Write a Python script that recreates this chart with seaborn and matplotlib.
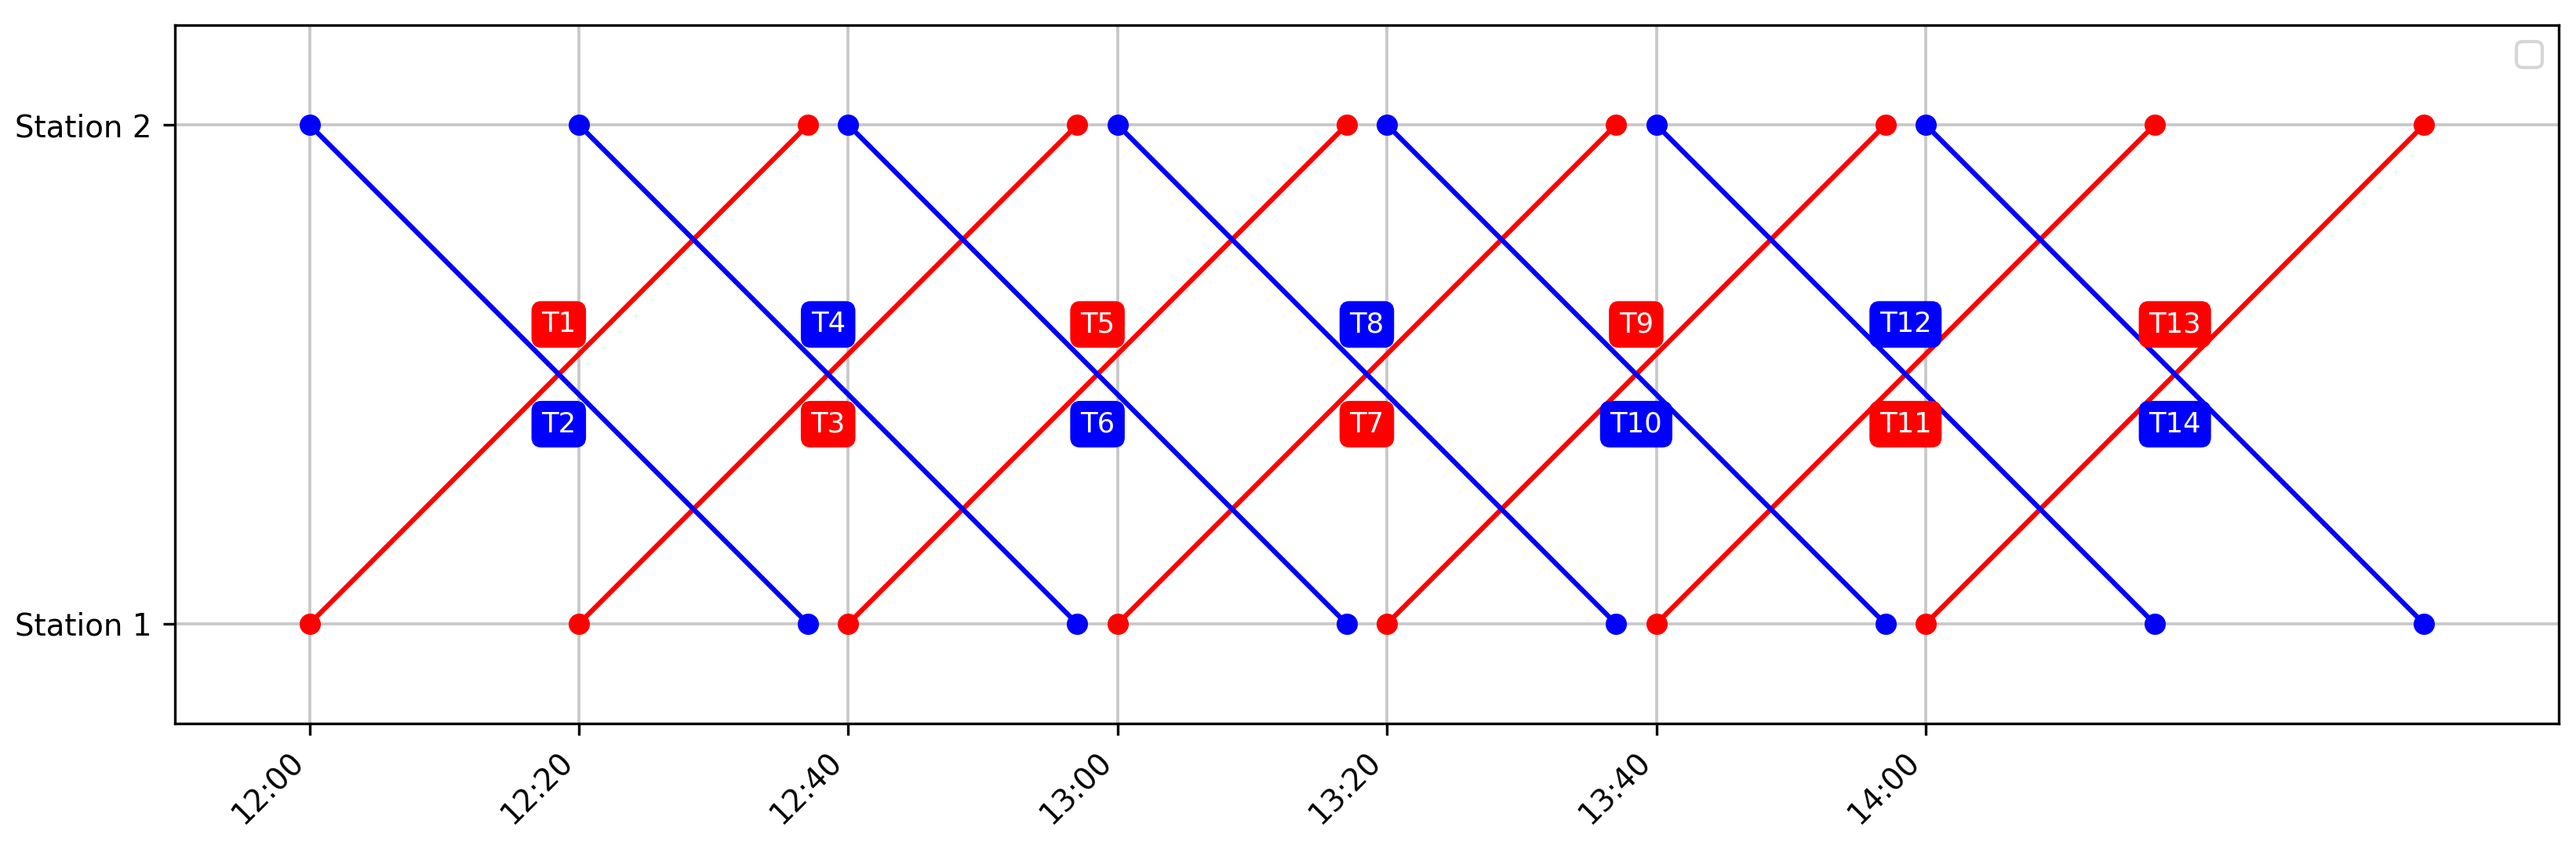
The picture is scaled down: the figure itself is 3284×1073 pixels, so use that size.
import pandas as pd
import numpy as np
import matplotlib
matplotlib.use("Agg")
import matplotlib.pyplot as plt
import matplotlib.dates as mdates
import seaborn as sns

# --- data ---
stations = ["Station 1", "Station 2"]
day = "2024-01-01 "

red_trains = ["T1", "T3", "T5", "T7", "T9", "T11", "T13"]      # Station 1 -> Station 2
red_depart = ["12:00", "12:20", "12:40", "13:00", "13:20", "13:40", "14:00"]
red_arrive = ["12:37", "12:57", "13:17", "13:37", "13:57", "14:17", "14:37"]

blue_trains = ["T2", "T4", "T6", "T8", "T10", "T12", "T14"]    # Station 2 -> Station 1
blue_depart = ["12:00", "12:20", "12:40", "13:00", "13:20", "13:40", "14:00"]
blue_arrive = ["12:37", "12:57", "13:17", "13:37", "13:57", "14:17", "14:37"]

tick_times = ["12:00", "12:20", "12:40", "13:00", "13:20", "13:40", "14:00"]

# --- build long table ---
rows = []
for name, dep, arr in zip(red_trains, red_depart, red_arrive):
    rows.append({"train": name, "dir": "up", "time": pd.Timestamp(day + dep), "pos": 1})
    rows.append({"train": name, "dir": "up", "time": pd.Timestamp(day + arr), "pos": 2})
for name, dep, arr in zip(blue_trains, blue_depart, blue_arrive):
    rows.append({"train": name, "dir": "down", "time": pd.Timestamp(day + dep), "pos": 2})
    rows.append({"train": name, "dir": "down", "time": pd.Timestamp(day + arr), "pos": 1})
df = pd.DataFrame(rows)

colors = {"up": "red", "down": "blue"}

fig = plt.figure(figsize=(3284 / 300, 1073 / 300), dpi=300)
ax = fig.add_axes([0.0679, 0.1407, 0.9254, 0.8295])

sns.lineplot(data=df, x="time", y="pos", hue="dir", units="train", estimator=None,
             palette=colors, marker="o", markersize=6.5, markeredgewidth=0,
             linewidth=1.5, sort=False, legend=False, ax=ax)

# train labels at the middle of each run
for k in range(len(red_trains)):
    above = (k % 2 == 0)
    for name, dep, arr, col, up in [
        (red_trains[k], red_depart[k], red_arrive[k], "red", above),
        (blue_trains[k], blue_depart[k], blue_arrive[k], "blue", not above),
    ]:
        t0 = pd.Timestamp(day + dep)
        t1 = pd.Timestamp(day + arr)
        mid = t0 + (t1 - t0) / 2
        ax.text(mid, 1.6 if up else 1.4, name, color="white", fontsize=8.5,
                ha="center", va="center",
                bbox=dict(boxstyle="round", facecolor=col, edgecolor=col))

ax.set_yticks([1, 2])
ax.set_yticklabels(stations)
ax.set_ylim(0.8, 2.2)
ax.set_xticks([pd.Timestamp(day + t) for t in tick_times])
ax.xaxis.set_major_formatter(mdates.DateFormatter("%H:%M"))
ax.set_xlim(pd.Timestamp(day + "11:50"), pd.Timestamp(day + "14:47"))
ax.tick_params(labelsize=9.3)
plt.setp(ax.get_xticklabels(), rotation=45, ha="right")
ax.set_xlabel("")
ax.set_ylabel("")
ax.grid(True, color="#c8c8c8", linewidth=0.9)
ax.legend(loc="upper right")

fig.savefig("out.png", dpi=300)
